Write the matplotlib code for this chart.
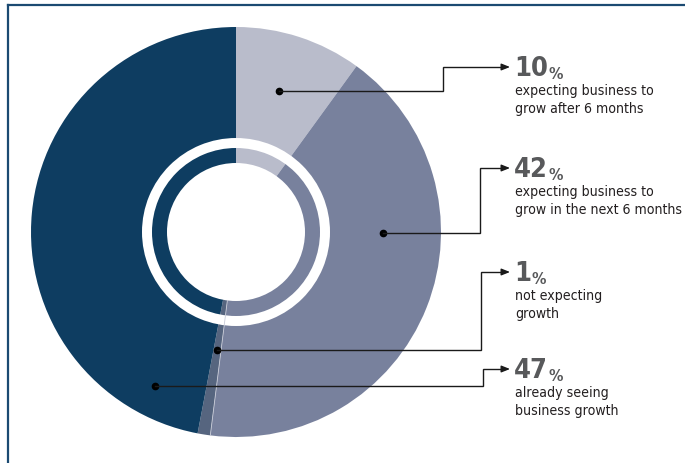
import numpy as np
import matplotlib.pyplot as plt
from matplotlib import font_manager as fm
from matplotlib.patches import Circle, Wedge

W, H = 685, 463

# share of respondents, clockwise from 12 o'clock
shares = [10, 42, 1, 47]
pct_labels = ['10', '42', '1', '47']
descriptions = ['expecting business to\ngrow after 6 months',
                'expecting business to\ngrow in the next 6 months',
                'not expecting\ngrowth',
                'already seeing\nbusiness growth']
colors = ['#b9bccb', '#78819d', '#56657f', '#0e3d61']

# where each leader starts inside its wedge (fraction of the wedge, radius)
anchor_frac = [0.47, 0.36, 0.5, 0.10]
anchor_r = [147, 147, 119, 174]
elbow_x = [443, 480, 481, 483]
arrow_y = [67, 168, 272, 369]

CX, CY, R = 236, 232, 205

# prefer a narrow face for the labels if one is installed
FONT, STRETCH, SCALE = 'DejaVu Sans', 'normal', 0.8
for fam in ['Liberation Sans Narrow', 'DejaVu Sans']:
    try:
        path = fm.findfont(fm.FontProperties(family=fam, stretch='condensed'),
                           fallback_to_default=False)
    except ValueError:
        continue
    if 'Narrow' in path or 'Condensed' in path:
        FONT, STRETCH, SCALE = fam, 'condensed', 1.0
        break


def fy(y):
    # pixel row (top-down) -> axis y (bottom-up)
    return H - y


fig = plt.figure(figsize=(W / 100, H / 100), dpi=100)
ax = fig.add_axes([0, 0, 1, 1])

wedges, _ = ax.pie(shares, colors=colors, startangle=90, counterclock=False,
                   radius=R, center=(CX, fy(CY)), frame=True,
                   wedgeprops=dict(linewidth=0))
ax.set_xlim(0, W)
ax.set_ylim(0, H)
ax.set_aspect('equal')
ax.axis('off')

# thin light seam between the 42% and 1% slices
ang = np.radians(90 - 360 * sum(shares[:2]) / 100)
ax.plot([CX + 69 * np.cos(ang), CX + R * np.cos(ang)],
        [fy(CY) + 69 * np.sin(ang), fy(CY) + R * np.sin(ang)],
        color='#c9ccd8', lw=0.6)

# white ring and white centre
ax.add_patch(Wedge((CX, fy(CY)), 94, 0, 360, width=10, color='white', lw=0))
ax.add_patch(Circle((CX, fy(CY)), 69, color='white', lw=0))

start = 90.0
for i, s in enumerate(shares):
    span = 360 * s / 100
    a = np.radians(start - span * anchor_frac[i])
    start -= span
    x0 = CX + anchor_r[i] * np.cos(a)
    y0 = fy(CY) + anchor_r[i] * np.sin(a)
    ya = fy(arrow_y[i])
    ax.plot(x0, y0, 'o', color='black', ms=4.5)
    ax.plot([x0, elbow_x[i], elbow_x[i], 505], [y0, y0, ya, ya],
            color='#1a1a1a', lw=1.0, solid_joinstyle='miter')
    ax.annotate('', xy=(510, ya), xytext=(504, ya),
                arrowprops=dict(arrowstyle='-|>,head_length=0.5,head_width=0.2',
                                color='#1a1a1a', lw=1.0, shrinkA=0, shrinkB=0))

    num = ax.text(514, ya - 9, pct_labels[i], family=FONT, fontstretch=STRETCH,
                  fontweight='bold', fontsize=19.5 * SCALE, color='#58595b',
                  ha='left', va='baseline')
    ax.annotate('%', xy=(1, 0), xycoords=num, xytext=(0.3, 0),
                textcoords='offset points', family=FONT, fontstretch=STRETCH,
                fontweight='bold', fontsize=11.5 * SCALE, color='#58595b',
                ha='left', va='bottom')
    ax.text(515, ya - 17, descriptions[i], family=FONT, fontstretch=STRETCH,
            fontsize=10.1 * SCALE, color='#231f20', ha='left', va='top',
            linespacing=1.32)

# frame rules on the left and top
fig.add_artist(plt.Line2D([8 / W, 8 / W], [0, 1 - 5 / H], color='#1b4a72', lw=1.6))
fig.add_artist(plt.Line2D([8 / W, 1], [1 - 5 / H, 1 - 5 / H], color='#1b4a72', lw=1.6))

fig.savefig('out.png', dpi=100)
